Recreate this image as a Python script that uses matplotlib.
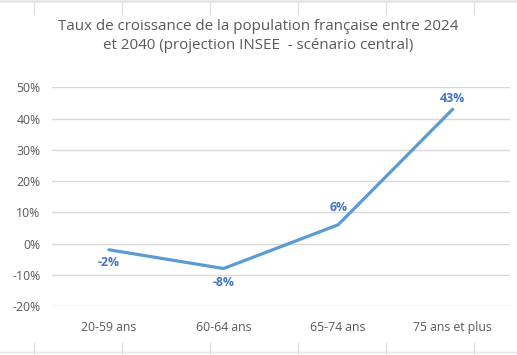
import numpy as np
import matplotlib.pyplot as plt
from matplotlib.lines import Line2D

# Data
categories = ['20-59 ans', '60-64 ans', '65-74 ans', '75 ans et plus']
growth = [-2, -8, 6, 43]           # percent

yticks = [-20, -10, 0, 10, 20, 30, 40, 50]

plt.rcParams['font.family'] = ['Open Sans', 'DejaVu Sans']

fig = plt.figure(figsize=(5.17, 3.55), dpi=100)
ax = fig.add_axes([0.1, 0.138, 0.8865, 0.616])

x = np.arange(len(categories))
ax.plot(x, growth, color='#5B9BD5', linewidth=2.3, solid_capstyle='round', zorder=3)

# label offsets (points) as placed in the original chart
offsets = [-9.4, -10, 12.2, 8]
for xi, v, dy in zip(x, growth, offsets):
    ax.annotate(f'{v}%', (xi, v), xytext=(0, dy), textcoords='offset points',
                ha='center', va='center', fontsize=8.8, fontweight='bold', color='#4472C4')

ax.set_xlim(-0.5, len(categories) - 0.5)
ax.set_ylim(-20, 50)
ax.set_yticks(yticks)
ax.set_yticklabels([f'{t}%' for t in yticks])
ax.set_xticks(x)
ax.set_xticklabels(categories)
ax.tick_params(axis='both', length=0, labelsize=8.8, labelcolor='#595959')
ax.tick_params(axis='x', pad=11)
ax.tick_params(axis='y', pad=8)
ax.grid(axis='y', color='#D9D9D9', linewidth=1)
ax.set_axisbelow(True)
for s in ax.spines.values():
    s.set_visible(False)

fig.text(0.499, 0.898, 'Taux de croissance de la population française entre 2024\n'
         'et 2040 (projection INSEE  - scénario central)',
         ha='center', va='center', fontsize=10.9, color='#595959', linespacing=1.4)

# spreadsheet cell lines around the chart
for xp in [34, 122, 210, 298, 386, 474]:
    fig.add_artist(Line2D([xp / 517, xp / 517], [1, 1 - 14 / 355], color='#E0E0E0', lw=1))
    fig.add_artist(Line2D([xp / 517, xp / 517], [0, 12 / 355], color='#E0E0E0', lw=1))
fig.add_artist(Line2D([0, 1], [1 - 1 / 355, 1 - 1 / 355], color='#E6E6E6', lw=2))
fig.add_artist(Line2D([0, 1], [3 / 355, 3 / 355], color='#E6E6E6', lw=1))

fig.savefig('out.png', dpi=100)
